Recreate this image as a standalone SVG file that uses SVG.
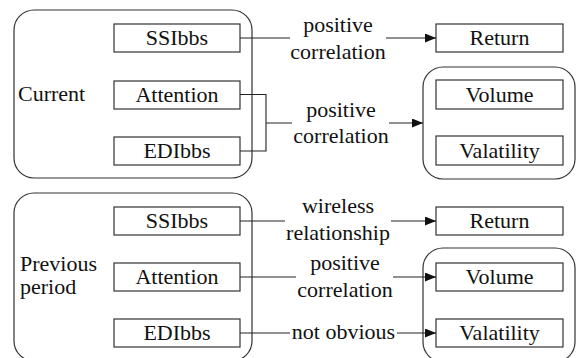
<svg xmlns="http://www.w3.org/2000/svg" width="576" height="358" viewBox="0 0 576 358">
<style>
.grp{fill:none;stroke:#333;stroke-width:1.2}
.box{fill:#fff;stroke:#333;stroke-width:1.2}
.t{text-anchor:middle}
.ln{fill:none;stroke:#222;stroke-width:1.1}
</style>
<defs>
<marker id="arr" markerUnits="userSpaceOnUse" markerWidth="12" markerHeight="10" refX="11" refY="4.5" orient="auto">
<path d="M0,0 L11,4.5 L0,9 z" fill="#111"/>
</marker>
</defs>
<rect width="576" height="358" fill="#fff"/>
<g font-family="Liberation Serif, DejaVu Serif, serif" font-size="22" fill="#111">
<g id="current">
<rect class="grp" x="14" y="10" width="238" height="168" rx="20"/>
<text x="18" y="101">Current</text>
</g>
<g id="cur-ssibbs"><rect class="box" x="114" y="24" width="126" height="28"/><text class="t" x="177" y="45">SSIbbs</text></g>
<g id="cur-attention"><rect class="box" x="114" y="81" width="126" height="28"/><text class="t" x="177" y="102">Attention</text></g>
<g id="cur-edibbs"><rect class="box" x="114" y="137" width="126" height="28"/><text class="t" x="177" y="158">EDIbbs</text></g>
<g id="cur-return"><rect class="box" x="436" y="24" width="127" height="28"/><text class="t" x="499.5" y="45">Return</text></g>
<g id="cur-outcomes">
<rect class="grp" x="423" y="67" width="152" height="112" rx="20"/>
<rect class="box" x="436" y="80" width="127" height="29"/><text class="t" x="499.5" y="102">Volume</text>
<rect class="box" x="436" y="136" width="127" height="29"/><text class="t" x="499.5" y="158">Valatility</text>
</g>

<g id="previous">
<rect class="grp" x="14" y="193" width="238" height="168" rx="20"/>
<text x="20" y="271">Previous</text>
<text x="20" y="294">period</text>
</g>
<g id="prev-ssibbs"><rect class="box" x="114" y="207" width="126" height="28"/><text class="t" x="177" y="228">SSIbbs</text></g>
<g id="prev-attention"><rect class="box" x="114" y="263" width="126" height="28"/><text class="t" x="177" y="284">Attention</text></g>
<g id="prev-edibbs"><rect class="box" x="114" y="319" width="126" height="28"/><text class="t" x="177" y="340">EDIbbs</text></g>
<g id="prev-return"><rect class="box" x="436" y="207" width="127" height="28"/><text class="t" x="499.5" y="228">Return</text></g>
<g id="prev-outcomes">
<rect class="grp" x="423" y="248" width="152" height="114" rx="20"/>
<rect class="box" x="436" y="263" width="127" height="28"/><text class="t" x="499.5" y="284">Volume</text>
<rect class="box" x="436" y="319" width="127" height="28"/><text class="t" x="499.5" y="340">Valatility</text>
</g>

<g id="connectors">
<path class="ln" d="M240,38 H290"/>
<path class="ln" d="M386,38 H436" marker-end="url(#arr)"/>
<text class="t" x="338" y="32">positive</text>
<text class="t" x="338" y="59">correlation</text>

<path class="ln" d="M240,94.5 H266 V151 H240 M266,123 H292"/>
<path class="ln" d="M389,123 H423" marker-end="url(#arr)"/>
<text class="t" x="341" y="117">positive</text>
<text class="t" x="341" y="143">correlation</text>

<path class="ln" d="M240,221 H285"/>
<path class="ln" d="M391,221 H436" marker-end="url(#arr)"/>
<text class="t" x="338" y="213">wireless</text>
<text class="t" x="338" y="240">relationship</text>

<path class="ln" d="M240,277 H296"/>
<path class="ln" d="M393,277 H436" marker-end="url(#arr)"/>
<text class="t" x="345" y="270">positive</text>
<text class="t" x="345" y="297">correlation</text>

<path class="ln" d="M240,333 H290"/>
<path class="ln" d="M397,333 H436" marker-end="url(#arr)"/>
<text class="t" x="343.5" y="339">not obvious</text>
</g>
</g>
</svg>
